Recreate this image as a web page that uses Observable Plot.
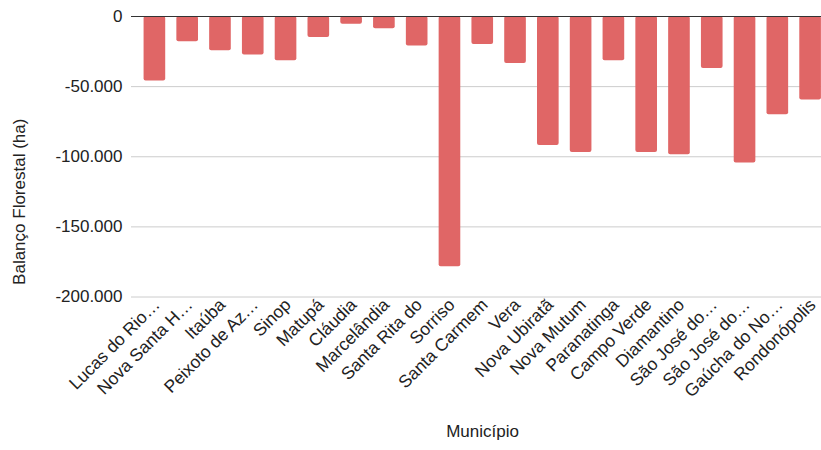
<!DOCTYPE html>
<html>
<head>
<meta charset="utf-8">
<script src="https://cdn.jsdelivr.net/npm/d3@7"></script>
<script src="https://cdn.jsdelivr.net/npm/@observablehq/plot@0.6"></script>
<style>
  html, body { margin: 0; padding: 0; background: #fff; }
</style>
</head>
<body>
<div id="chart"></div>
<script>
const municipios = [
  "Lucas do Rio…", "Nova Santa H…", "Itaúba", "Peixoto de Az…", "Sinop",
  "Matupá", "Cláudia", "Marcelândia", "Santa Rita do", "Sorriso",
  "Santa Carmem", "Vera", "Nova Ubiratã", "Nova Mutum", "Paranatinga",
  "Campo Verde", "Diamantino", "São José do…", "São José do…", "Gaúcha do No…",
  "Rondonópolis"
];
const balanco = [
  -46000, -18000, -24500, -27500, -31500,
  -15000, -5500, -8700, -21000, -178500,
  -20000, -33500, -92000, -97000, -31500,
  -97000, -98500, -37000, -104500, -70000,
  -59500
];
const yTicks = [0, -50000, -100000, -150000, -200000];

const data = municipios.map((m, i) => ({i, m, v: balanco[i]}));
const fmt = d3.formatLocale({decimal: ",", thousands: ".", grouping: [3], currency: ["R$", ""], minus: "-"}).format(",d");

const chart = Plot.plot({
  width: 821,
  height: 450,
  marginTop: 16,
  marginLeft: 131,
  marginRight: 0,
  marginBottom: 153.5,
  style: {fontFamily: "'Liberation Sans', Arial, sans-serif", fontSize: "15px", color: "#222", background: "#fff"},
  x: {domain: d3.range(municipios.length), range: [138, 826.5], paddingInner: 0.34, paddingOuter: 0.17, round: false, label: null, axis: null},
  y: {domain: [-200000, 0], label: null, axis: null},
  marks: [
    Plot.gridY(yTicks, {stroke: "#cccccc", strokeOpacity: 1, strokeWidth: 1}),
    Plot.barY(data, {x: "i", y: "v", fill: "#e06666", rx: 2}),
    Plot.ruleY([0], {stroke: "#333", strokeWidth: 1}),
    Plot.axisY(yTicks, {tickSize: 0, tickPadding: 9, tickFormat: fmt, label: null, fontSize: 17, fill: "#222"}),
    Plot.axisX(d3.range(municipios.length), {tickSize: 0, tickRotate: -45, tickFormat: i => municipios[i], label: null, fontSize: 17.5, fill: "#222", tickPadding: 5, dx: 2}),
    Plot.text(["Balanço Florestal (ha)"], {frameAnchor: "left", textAnchor: "middle", dx: -112, dy: 45, rotate: -90, fontSize: 17, fill: "#222"}),
    Plot.text(["Município"], {frameAnchor: "bottom", dx: 6, dy: 140, fontSize: 17, fill: "#222"})
  ]
});
document.getElementById("chart").appendChild(chart);
</script>
</body>
</html>
